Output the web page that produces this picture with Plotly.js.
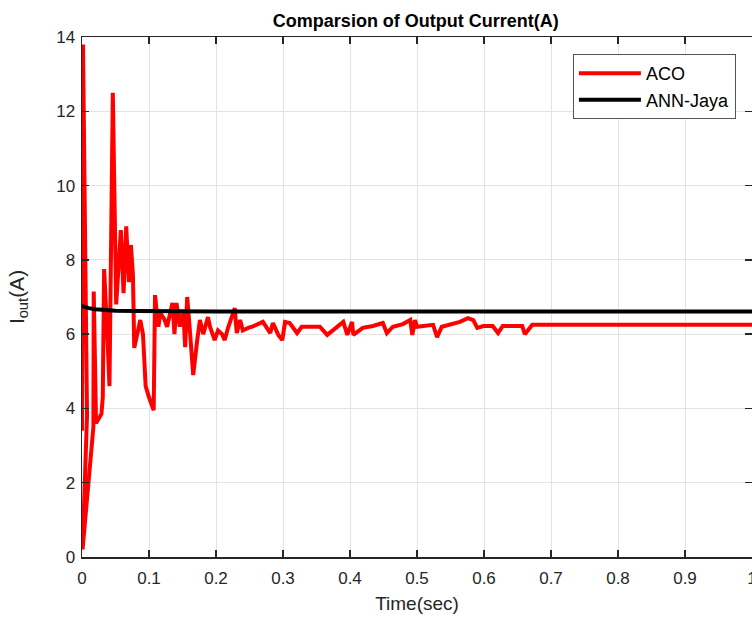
<!DOCTYPE html>
<html>
<head>
<meta charset="utf-8">
<script src="https://cdn.plot.ly/plotly-3.0.1.min.js"></script>
<style>
html,body{margin:0;padding:0;background:#fff;overflow:hidden;}
#chart{width:752px;height:619px;}
</style>
</head>
<body>
<div id="chart"></div>
<script>
// ACO output current (time in s, current in A)
const acoTime = [0, 0.0015, 0.0075, 0.0008, 0.017, 0.0175, 0.021, 0.026, 0.029, 0.031, 0.033, 0.038, 0.041,
  0.046, 0.049, 0.051, 0.058, 0.062, 0.066, 0.070, 0.073, 0.076, 0.078, 0.087, 0.091, 0.095, 0.100, 0.103,
  0.107, 0.109, 0.114, 0.117, 0.123, 0.127, 0.135, 0.138, 0.141, 0.146, 0.151, 0.154, 0.157, 0.161, 0.166,
  0.172, 0.176, 0.181, 0.188, 0.191, 0.198, 0.203, 0.209, 0.213, 0.218, 0.228, 0.231, 0.236, 0.240, 0.248,
  0.254, 0.270, 0.281, 0.285, 0.293, 0.299, 0.303, 0.310, 0.321, 0.328, 0.355, 0.366, 0.390, 0.396, 0.403,
  0.405, 0.419, 0.434, 0.449, 0.455, 0.464, 0.479, 0.490, 0.493, 0.497, 0.500, 0.524, 0.530, 0.537, 0.564,
  0.576, 0.584, 0.590, 0.599, 0.613, 0.621, 0.628, 0.657, 0.661, 0.672, 1.0];
const acoCurrent = [3.4, 13.8, 3.8, 0.2, 3.5, 7.15, 3.6, 3.75, 3.85, 4.3, 7.75, 5.9, 4.6,
  12.5, 9.6, 6.8, 8.8, 7.1, 8.9, 7.4, 8.4, 7.6, 5.63, 6.38, 6.0, 4.6, 4.3, 4.15,
  3.95, 7.05, 6.2, 6.57, 6.4, 6.2, 6.84, 6.0, 6.84, 6.2, 6.65, 5.65, 7.0, 6.1, 4.9,
  5.84, 6.38, 6.0, 6.46, 6.2, 5.84, 6.1, 6.0, 5.84, 6.17, 6.7, 6.03, 6.38, 6.1, 6.17,
  6.2, 6.33, 6.03, 6.3, 5.98, 5.84, 6.33, 6.3, 6.03, 6.2, 6.2, 5.98, 6.33, 5.98, 6.33,
  5.98, 6.17, 6.22, 6.3, 6.03, 6.2, 6.27, 6.38, 5.98, 6.38, 6.2, 6.25, 5.92, 6.2, 6.33,
  6.43, 6.38, 6.17, 6.22, 6.22, 6.03, 6.22, 6.22, 6.0, 6.25, 6.25];

// ANN-Jaya output current
const jayaTime = [0, 0.005, 0.01, 0.02, 0.03, 0.05, 0.08, 0.12, 0.2, 1.0];
const jayaCurrent = [6.76, 6.73, 6.70, 6.67, 6.65, 6.63, 6.62, 6.615, 6.61, 6.61];

const seriesNames = ['ACO', 'ANN-Jaya'];
const xTicks = [0, 0.1, 0.2, 0.3, 0.4, 0.5, 0.6, 0.7, 0.8, 0.9, 1];
const xTickText = ['0', '0.1', '0.2', '0.3', '0.4', '0.5', '0.6', '0.7', '0.8', '0.9', '1'];
const yTicks = [0, 2, 4, 6, 8, 10, 12, 14];

const font = 'Arial, "Liberation Sans", Helvetica, sans-serif';
const axisCol = '#262626';

const traces = [
  {x: acoTime, y: acoCurrent, name: seriesNames[0], type: 'scatter', mode: 'lines',
   line: {color: '#ff0000', width: 4}},
  {x: jayaTime, y: jayaCurrent, name: seriesNames[1], type: 'scatter', mode: 'lines',
   line: {color: '#000000', width: 4}}
];

const axisCommon = {
  showline: true, linecolor: axisCol, linewidth: 1.5, mirror: 'ticks',
  ticks: 'inside', ticklen: 7, tickwidth: 1.5, tickcolor: axisCol,
  showgrid: true, gridcolor: '#e3e3e3', gridwidth: 1, zeroline: false,
  tickfont: {family: font, size: 17, color: axisCol}
};

const layout = {
  width: 752, height: 619,
  margin: {l: 82, r: 0, t: 37, b: 62},
  paper_bgcolor: '#fff', plot_bgcolor: '#fff',
  title: {text: '<b>Comparsion of Output Current(A)</b>', font: {family: font, size: 18, color: '#000'},
          x: 0.553, xanchor: 'center', y: 0.967, yanchor: 'middle'},
  xaxis: Object.assign({}, axisCommon, {
    range: [0, 1], tickvals: xTicks, ticktext: xTickText, ticklabelstandoff: 5,
    ticklabeloverflow: 'allow',
    title: {text: 'Time(sec)', font: {family: font, size: 19, color: axisCol}, standoff: 10}
  }),
  yaxis: Object.assign({}, axisCommon, {
    range: [0, 14], tickvals: yTicks, ticklabelstandoff: 2,
    title: {text: 'I<sub>out</sub>(A)', font: {family: font, size: 21, color: axisCol}, standoff: 26}
  }),
  legend: {
    x: 0.976, xanchor: 'right', y: 0.967, yanchor: 'top',
    bgcolor: '#fff', bordercolor: '#555', borderwidth: 1,
    font: {family: font, size: 18, color: '#000'},
    itemwidth: 62, tracegroupgap: 0
  },
  showlegend: true
};

Plotly.newPlot('chart', traces, layout, {displayModeBar: false, staticPlot: true});
</script>
</body>
</html>
